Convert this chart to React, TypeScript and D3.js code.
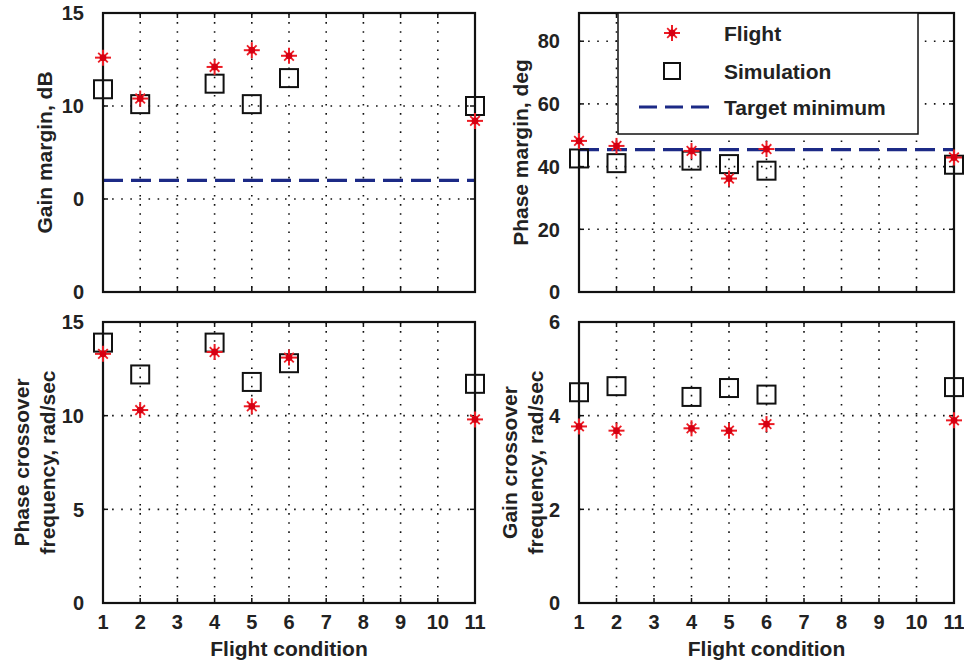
import React from "react";
import * as d3 from "d3";

const conditions = [1, 2, 4, 5, 6, 11];
const xTicks = [1, 2, 3, 4, 5, 6, 7, 8, 9, 10, 11];

const gainMarginFlight = [12.6, 10.4, 12.1, 13.0, 12.7, 9.2];
const gainMarginSim = [10.9, 10.1, 11.2, 10.1, 11.5, 10.0];
const gainMarginTarget = 6;
const gainMarginTicks = [0, 5, 10, 15];
const gainMarginTickLabels = ["0", "0", "10", "15"];

const phaseMarginFlight = [48.2, 46.6, 45.0, 36.2, 45.6, 42.9];
const phaseMarginSim = [42.6, 41.1, 41.9, 40.8, 38.7, 40.6];
const phaseMarginTarget = 45.4;
const phaseMarginTicks = [0, 20, 40, 60, 80];

const phaseCrossFlight = [13.3, 10.3, 13.4, 10.5, 13.1, 9.8];
const phaseCrossSim = [13.9, 12.2, 13.9, 11.8, 12.8, 11.7];
const phaseCrossTicks = [0, 5, 10, 15];

const gainCrossFlight = [3.77, 3.68, 3.73, 3.68, 3.82, 3.9];
const gainCrossSim = [4.5, 4.63, 4.4, 4.59, 4.45, 4.61];
const gainCrossTicks = [0, 2, 4, 6];

const legendLabels = ["Flight", "Simulation", "Target minimum"];

const FONT = "'Liberation Sans', Arial, Helvetica, sans-serif";
const RED = "#ec1c24";
const NAVY = "#1c2a86";
const TEXT = "#222";

type PanelProps = {
  left: number;
  top: number;
  width: number;
  height: number;
  yMax: number;
  yTicks: number[];
  yTickLabels?: string[];
  flight: number[];
  sim: number[];
  target?: number;
  yLabel: string[];
  yLabelX: number[];
  showX: boolean;
  legend?: boolean;
};

function Star({ x, y, r }: { x: number; y: number; r: number }) {
  const d = r * 0.6;
  return (
    <g>
      <line x1={x - r} y1={y} x2={x + r} y2={y} stroke={RED} strokeWidth={2} />
      <line x1={x} y1={y - r} x2={x} y2={y + r} stroke={RED} strokeWidth={2} />
      <line x1={x - d} y1={y - d} x2={x + d} y2={y + d} stroke={RED} strokeWidth={1.8} />
      <line x1={x - d} y1={y + d} x2={x + d} y2={y - d} stroke={RED} strokeWidth={1.8} />
      <circle cx={x} cy={y} r={3.4} fill="#d60012" />
    </g>
  );
}

function Square({ x, y, s }: { x: number; y: number; s: number }) {
  return (
    <rect x={x - s / 2} y={y - s / 2} width={s} height={s} fill="none" stroke="#111" strokeWidth={2} />
  );
}

function Panel(p: PanelProps) {
  const x = d3.scaleLinear().domain([1, 11]).range([p.left, p.left + p.width]);
  const y = d3.scaleLinear().domain([0, p.yMax]).range([p.top + p.height, p.top]);
  const bottom = p.top + p.height;
  const right = p.left + p.width;
  const tickLen = 5;
  const yMid = p.top + p.height / 2;
  return (
    <g>
      {xTicks.slice(1, -1).map((t) => (
        <line key={"gx" + t} x1={x(t)} x2={x(t)} y1={p.top} y2={bottom} stroke="#111" strokeWidth={1.6} strokeDasharray="1.6,7.5" />
      ))}
      {p.yTicks.filter((t) => t > 0 && t < p.yMax).map((t) => (
        <line key={"gy" + t} x1={p.left} x2={right} y1={y(t)} y2={y(t)} stroke="#111" strokeWidth={1.6} strokeDasharray="1.6,7.5" />
      ))}
      {xTicks.map((t) => (
        <g key={"tx" + t}>
          <line x1={x(t)} x2={x(t)} y1={bottom} y2={bottom - tickLen} stroke="#111" strokeWidth={1.5} />
          <line x1={x(t)} x2={x(t)} y1={p.top} y2={p.top + tickLen} stroke="#111" strokeWidth={1.5} />
        </g>
      ))}
      {p.yTicks.map((t) => (
        <g key={"ty" + t}>
          <line x1={p.left} x2={p.left + tickLen} y1={y(t)} y2={y(t)} stroke="#111" strokeWidth={1.5} />
          <line x1={right} x2={right - tickLen} y1={y(t)} y2={y(t)} stroke="#111" strokeWidth={1.5} />
        </g>
      ))}
      {p.target !== undefined && (
        <line x1={p.left} x2={right} y1={y(p.target)} y2={y(p.target)} stroke={NAVY} strokeWidth={3.2} strokeDasharray="20,8" />
      )}
      <rect x={p.left} y={p.top} width={p.width} height={p.height} fill="none" stroke="#111" strokeWidth={2.2} />
      {conditions.map((c, i) => (
        <Square key={"s" + c} x={x(c)} y={y(p.sim[i])} s={18} />
      ))}
      {conditions.map((c, i) => (
        <Star key={"f" + c} x={x(c)} y={y(p.flight[i])} r={8} />
      ))}
      {p.yTicks.map((t, i) => (
        <text key={"yl" + t} x={p.left - 19} y={y(t)} dy="0.36em" textAnchor="end" fontFamily={FONT} fontWeight="bold" fontSize={20} fill={TEXT}>
          {p.yTickLabels ? p.yTickLabels[i] : String(t)}
        </text>
      ))}
      {p.yLabel.map((l, i) => (
        <text key={"ylab" + i} transform={`translate(${p.yLabelX[i]},${yMid}) rotate(-90)`} textAnchor="middle" dy="0.36em" fontFamily={FONT} fontWeight="bold" fontSize={21} fill={TEXT}>
          {l}
        </text>
      ))}
      {p.showX && (
        <g>
          {xTicks.map((t) => (
            <text key={"xl" + t} x={x(t)} y={629} textAnchor="middle" fontFamily={FONT} fontWeight="bold" fontSize={20} fill={TEXT}>
              {t}
            </text>
          ))}
          <text x={(p.left + right) / 2} y={656} textAnchor="middle" fontFamily={FONT} fontWeight="bold" fontSize={21} fill={TEXT}>
            Flight condition
          </text>
        </g>
      )}
      {p.legend && (
        <g>
          <rect x={618} y={p.top} width={300} height={121} fill="#fff" stroke="#111" strokeWidth={1.5} />
          <Star x={672} y={33} r={8} />
          <Square x={672} y={71} s={16} />
          <line x1={639} x2={713} y1={107} y2={107} stroke={NAVY} strokeWidth={3.2} strokeDasharray="18,8" />
          {legendLabels.map((t, i) => (
            <text key={t} x={724} y={[33, 71, 107][i]} dy="0.36em" fontFamily={FONT} fontWeight="bold" fontSize={21} fill={TEXT}>
              {t}
            </text>
          ))}
        </g>
      )}
    </g>
  );
}

export default function App() {
  return (
    <svg width={964} height={666} style={{ display: "block", position: "absolute", left: 0, top: 0 }}>
      <rect width={964} height={666} fill="#fff" />
      <Panel left={103} top={13} width={372} height={279} yMax={15} yTicks={gainMarginTicks} yTickLabels={gainMarginTickLabels}
        flight={gainMarginFlight} sim={gainMarginSim} target={gainMarginTarget} yLabel={["Gain margin, dB"]} yLabelX={[44]} showX={false} />
      <Panel left={579} top={13} width={375} height={279} yMax={89} yTicks={phaseMarginTicks}
        flight={phaseMarginFlight} sim={phaseMarginSim} target={phaseMarginTarget} yLabel={["Phase margin, deg"]} yLabelX={[520]} showX={false} legend />
      <Panel left={103} top={322} width={372} height={281} yMax={15} yTicks={phaseCrossTicks}
        flight={phaseCrossFlight} sim={phaseCrossSim} yLabel={["Phase crossover", "frequency, rad/sec"]} yLabelX={[21, 47]} showX />
      <Panel left={579} top={322} width={375} height={281} yMax={6} yTicks={gainCrossTicks}
        flight={gainCrossFlight} sim={gainCrossSim} yLabel={["Gain crossover", "frequency, rad/sec"]} yLabelX={[509, 535]} showX />
    </svg>
  );
}
